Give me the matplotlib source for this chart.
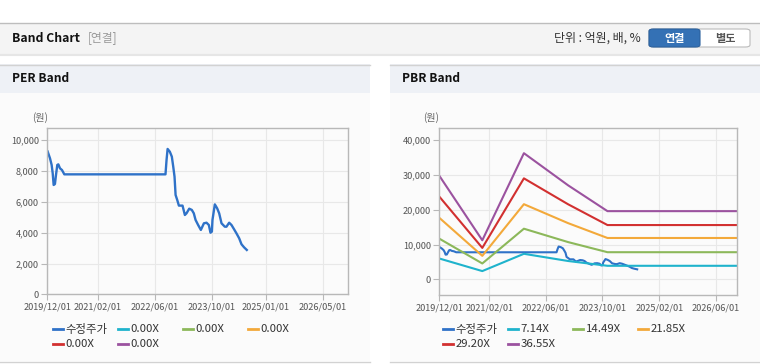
import pandas as pd
import matplotlib
matplotlib.use("Agg")
import matplotlib.pyplot as plt
from matplotlib.patches import Rectangle, FancyBboxPatch
from matplotlib.lines import Line2D
from matplotlib.ticker import FuncFormatter

plt.rcParams['font.family'] = ['Noto Sans CJK KR', 'DejaVu Sans']

W, H = 760, 364

# adjusted share price (수정주가)
price_dates = ["2019-12-04", "2019-12-24", "2020-01-07", "2020-01-16", "2020-01-24",
               "2020-02-04", "2020-02-13", "2020-02-24", "2020-03-04", "2020-03-18",
               "2020-04-04", "2020-04-24", "2022-09-02", "2022-09-11", "2022-09-20",
               "2022-10-09", "2022-10-26", "2022-11-07", "2022-11-18", "2022-11-27",
               "2022-12-11", "2022-12-25", "2023-01-25", "2023-02-14", "2023-02-28",
               "2023-03-23", "2023-04-14", "2023-05-01", "2023-05-16", "2023-06-07",
               "2023-06-30", "2023-07-26", "2023-08-17", "2023-09-06", "2023-09-20",
               "2023-10-02", "2023-10-07", "2023-10-27", "2023-11-16", "2023-12-03",
               "2023-12-23", "2024-01-20", "2024-02-03", "2024-02-26", "2024-03-17",
               "2024-04-08", "2024-04-28", "2024-05-21", "2024-06-10", "2024-07-02",
               "2024-07-25"]
price_values = [9270, 8830, 8400, 7860, 7100,
                7160, 7750, 8400, 8440, 8180,
                8070, 7790, 7790, 8720, 9440,
                9260, 8940, 8290, 7640, 6450,
                6125, 5760, 5760, 5150, 5260,
                5560, 5480, 5260, 4830, 4500,
                4180, 4610, 4650, 4500, 4000,
                4070, 4830, 5840, 5580, 5260,
                4610, 4390, 4390, 4650, 4500,
                4220, 3960, 3640, 3250, 3050,
                2880]

# PBR band lines
band_dates = ["2019-12-01", "2020-12-04", "2021-11-26", "2022-12-10", "2023-11-13", "2026-12-01"]
pbr_714 = [6000, 2380, 7350, 5280, 3900, 3900]
pbr_1449 = [11710, 4570, 14570, 10720, 7810, 7810]
pbr_2185 = [17710, 6760, 21620, 16170, 11900, 11900]
pbr_2920 = [23810, 9050, 29050, 21600, 15620, 15620]
pbr_3655 = [29810, 11240, 36290, 27050, 19620, 19620]

per_labels = ["0.00X", "0.00X", "0.00X", "0.00X", "0.00X"]
pbr_labels = ["7.14X", "14.49X", "21.85X", "29.20X", "36.55X"]
price_label = "수정주가"

colors = ["#2f72c8", "#1fb3cc", "#8cb85a", "#f3a93a", "#d23030", "#9b529f"]

per_ticks = ["2019/12/01", "2021/02/01", "2022/06/01", "2023/10/01", "2025/01/01", "2026/05/01"]
pbr_ticks = ["2019/12/01", "2021/02/01", "2022/06/01", "2023/10/01", "2025/02/01", "2026/06/01"]

fig = plt.figure(figsize=(7.6, 3.64), dpi=100)
fig.patch.set_facecolor("white")


def fx(x):
    return x / W


def fy(y):
    return 1 - y / H


def rect(x0, y0, x1, y1, **kw):
    fig.add_artist(Rectangle((fx(x0), fy(y1)), fx(x1) - fx(x0), fy(y0) - fy(y1),
                             transform=fig.transFigure, zorder=-1, lw=0, **kw))


def hline(x0, x1, y, color, lw=1):
    fig.add_artist(Line2D([fx(x0), fx(x1)], [fy(y), fy(y)], transform=fig.transFigure,
                          color=color, lw=lw, zorder=-0.5))


# top header bar
rect(0, 23, W, 53, facecolor="#f4f4f4")
hline(0, W, 22.5, "#bdbdbd")
hline(0, W, 53.5, "#c4c4c4")
hline(0, W, 55, "#e6e6e6", lw=1.5)
fig.text(fx(12), fy(38), "Band Chart", fontsize=8.8, fontweight="bold", color="#111",
         va="center", ha="left")
fig.text(fx(88), fy(38), "[연결]", fontsize=8.5, color="#999", va="center", ha="left")
fig.text(fx(641), fy(38), "단위 : 억원, 배, %", fontsize=8.6, color="#333", va="center", ha="right")

# 연결 / 별도 buttons
fig.add_artist(FancyBboxPatch((fx(649), fy(47)), fx(750) - fx(649), fy(29) - fy(47),
                              boxstyle="round,pad=0,rounding_size=0.006",
                              transform=fig.transFigure, facecolor="white",
                              edgecolor="#bbbbbb", lw=0.8, zorder=1))
fig.add_artist(FancyBboxPatch((fx(649), fy(47)), fx(700) - fx(649), fy(29) - fy(47),
                              boxstyle="round,pad=0,rounding_size=0.006",
                              transform=fig.transFigure, facecolor="#3471b5",
                              edgecolor="#2c619e", lw=0.8, zorder=2))
fig.text(fx(674.5), fy(38.5), "연결", fontsize=8, fontweight="bold", color="white",
         ha="center", va="center", zorder=3)
fig.text(fx(725), fy(38.5), "별도", fontsize=8, fontweight="bold", color="#555",
         ha="center", va="center", zorder=3)

# panels
for x0, x1, title in [(0, 370, "PER Band"), (390, W, "PBR Band")]:
    rect(x0, 64, x1, 93, facecolor="#eef1f6")
    rect(x0, 93, x1, 361, facecolor="#fbfbfb")
    hline(x0, x1, 64.5, "#d2d2d2")
    hline(x0, x1, 362, "#d2d2d2")
    fig.text(fx(x0 + 11.5), fy(79), title, fontsize=8.6, fontweight="bold", color="#111",
             va="center", ha="left")

ax1 = fig.add_axes([fx(47.3), fy(294.3), fx(347.7) - fx(47.3), fy(128.3) - fy(294.3)])
ax2 = fig.add_axes([fx(439.3), fy(295), fx(737.3) - fx(439.3), fy(128.3) - fy(295)])

pd_price = pd.to_datetime(price_dates)
pd_band = pd.to_datetime(band_dates)

ax1.plot(pd_price, price_values, color=colors[0], lw=1.7)
for i in range(5):
    ax1.plot([], [], color=colors[i + 1], lw=1.7)

ax2.plot(pd_price, price_values, color=colors[0], lw=1.5)
for i, band in enumerate([pbr_714, pbr_1449, pbr_2185, pbr_2920, pbr_3655]):
    ax2.plot(pd_band, band, color=colors[i + 1], lw=1.5)

fmt = FuncFormatter(lambda v, p: f"{int(v):,}")
for ax, ticks, ylim, yt in [(ax1, per_ticks, (0, 10780), range(0, 10001, 2000)),
                            (ax2, pbr_ticks, (-4500, 43450), range(0, 40001, 10000))]:
    ax.set_facecolor("#fbfbfb")
    ax.set_xlim(pd.Timestamp("2019-12-01"), pd.Timestamp("2026-12-01"))
    ax.set_ylim(*ylim)
    ax.set_xticks(pd.to_datetime(ticks, format="%Y/%m/%d"))
    ax.set_xticklabels(ticks)
    ax.set_yticks(list(yt))
    ax.yaxis.set_major_formatter(fmt)
    ax.grid(color="#e8e8e8", lw=0.8)
    ax.set_axisbelow(True)
    for s in ax.spines.values():
        s.set_color("#b8b8b8")
        s.set_linewidth(1)
    ax.tick_params(direction="out", length=4, width=0.8, color="#b8b8b8",
                   labelsize=6.6, labelcolor="#555", pad=2)

fig.text(fx(32), fy(118), "(원)", fontsize=7.2, color="#666", va="center", ha="left")
fig.text(fx(423), fy(118), "(원)", fontsize=7.2, color="#666", va="center", ha="left")


def legend(base_x, labels):
    names = [price_label] + labels
    for i, name in enumerate(names):
        col, row = i % 4, i // 4
        x = base_x + 65 * col
        y = 329 + 15 * row
        fig.add_artist(Line2D([fx(x), fx(x + 10.6)], [fy(y), fy(y)], transform=fig.transFigure,
                              color=colors[i], lw=2))
        fig.text(fx(x + 13), fy(y), name, fontsize=8.2, color="#333", va="center", ha="left")


legend(52.7, per_labels)
legend(442.7, pbr_labels)

fig.savefig("out.png", dpi=100)
